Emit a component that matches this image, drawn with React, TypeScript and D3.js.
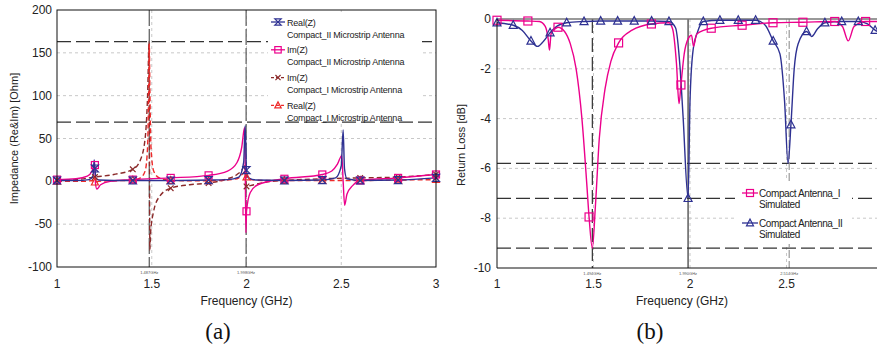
import React from 'react';
import * as d3 from 'd3';

type P = [number, number];

// ---------- Plot (a): impedance ----------
const A_REAL_II: P[] = [
  [1.0, 1], [1.1, 1], [1.17, 2], [1.19, 6], [1.196, 25], [1.2, 15], [1.205, 4], [1.22, 1.5], [1.3, 1], [1.4, 1],
  [1.6, 1], [1.8, 1.5], [1.9, 2], [1.96, 5], [1.985, 22], [1.993, 65], [2.0, 13], [2.01, 4], [2.05, 1.5], [2.2, 1],
  [2.4, 1.5], [2.47, 4], [2.5, 18], [2.51, 60], [2.517, 15], [2.53, 3], [2.6, 1], [2.8, 1.5], [3.0, 4],
];
const A_IM_II: P[] = [
  [1.0, 2], [1.1, 3], [1.16, 6], [1.185, 12], [1.196, 19], [1.2, 19], [1.203, -2], [1.21, -9], [1.23, -4], [1.28, 0],
  [1.4, 2], [1.6, 4], [1.8, 7], [1.9, 12], [1.95, 22], [1.975, 40], [1.99, 63], [1.994, 0], [1.997, -60], [2.0, -35],
  [2.02, -13], [2.06, -4], [2.2, 3], [2.4, 8], [2.45, 12], [2.48, 20], [2.503, 30], [2.51, 0], [2.518, -28],
  [2.53, -15], [2.56, -5], [2.6, 1], [2.8, 4], [3.0, 8],
];
const A_IM_I: P[] = [
  [1.0, 1], [1.1, 2], [1.2, 5], [1.3, 8], [1.4, 14], [1.44, 25], [1.465, 50], [1.478, 100], [1.486, 163], [1.488, 40],
  [1.49, -80], [1.494, -60], [1.51, -35], [1.54, -18], [1.6, -8], [1.7, -4], [1.8, -2], [1.9, 3], [1.95, 8],
  [1.98, 15], [1.99, 20], [1.995, 5], [2.0, -6], [2.02, -5], [2.1, -1], [2.2, 1], [2.4, 3], [2.6, 4], [2.8, 5], [3.0, 8],
];
const A_REAL_I: P[] = [
  [1.0, 0], [1.15, 0], [1.19, 1], [1.2, -1], [1.22, 0], [1.4, 1.5], [1.44, 4], [1.465, 12], [1.478, 40], [1.484, 110],
  [1.487, 160], [1.49, 110], [1.496, 40], [1.51, 12], [1.54, 4], [1.6, 1], [1.8, 0.5], [1.95, 3], [1.985, 10],
  [1.995, 12], [2.0, 5], [2.02, 2], [2.1, 1], [2.4, 1], [2.6, 1], [2.8, 1.5], [3.0, 2],
];
const A_MK_REAL_II: P[] = [[1.0, 1], [1.2, 15], [1.4, 1], [1.6, 1], [1.8, 1.5], [2.0, 13], [2.2, 1], [2.4, 1.5], [2.6, 1], [2.8, 1.5], [3.0, 4]];
const A_MK_IM_II: P[] = [[1.0, 2], [1.2, 19], [1.4, 2], [1.6, 4], [1.8, 7], [2.0, -35], [2.2, 3], [2.4, 8], [2.6, 1], [2.8, 4], [3.0, 8]];
const A_MK_IM_I: P[] = [[1.0, 1], [1.2, 5], [1.4, 14], [1.6, -8], [1.8, -2], [2.0, -6], [2.2, 1], [2.4, 3], [2.6, 4], [2.8, 5], [3.0, 8]];
const A_MK_REAL_I: P[] = [[1.0, 0], [1.2, -1], [1.4, 1.5], [1.6, 1], [1.8, 0.5], [2.0, 5], [2.2, 1], [2.4, 1], [2.6, 1], [2.8, 1.5], [3.0, 2]];

const A_X_TICKS = [1, 1.5, 2, 2.5, 3];
const A_Y_TICKS = [200, 150, 100, 50, 0, -50, -100];
const A_GRID_Y = [150, 100, 50, -50];
const A_GRID_X = [1.5, 2, 2.5];
const A_REF_H = [163, 69];
const A_REF_V = [1.487, 1.998];
const A_REF_V_LABELS = ['1.487GHz', '1.998GHz'];
const A_LEGEND = [
  ['Real(Z)', 'Compact_II Microstrip Antenna'],
  ['Im(Z)', 'Compact_II Microstrip Antenna'],
  ['Im(Z)', 'Compact_I Microstrip Antenna'],
  ['Real(Z)', 'Compact_I Microstrip Antenna'],
];

// ---------- Plot (b): return loss ----------
const B_ANT_I: P[] = [
  [1.0, -0.05], [1.16, -0.08], [1.22, -0.1], [1.25, -0.3], [1.265, -0.8], [1.272, -1.25], [1.28, -0.6], [1.3, -0.4],
  [1.316, -0.33], [1.35, -0.5], [1.38, -1.0], [1.41, -2.0], [1.44, -4.0], [1.465, -6.6], [1.477, -7.95], [1.494, -9.2],
  [1.51, -7.5], [1.53, -4.8], [1.56, -2.8], [1.59, -1.7], [1.63, -0.96], [1.7, -0.45], [1.8, -0.2], [1.89, -0.15],
  [1.91, -0.4], [1.93, -1.8], [1.943, -3.4], [1.953, -2.65], [1.97, -1.4], [1.99, -0.8], [2.008, -0.65], [2.018, -1.1],
  [2.035, -0.6], [2.11, -0.37], [2.27, -0.25], [2.43, -0.15], [2.585, -0.13], [2.75, -0.1], [2.79, -0.3], [2.82, -0.88],
  [2.85, -0.3], [2.91, -0.1], [3.0, -0.1],
];
const B_ANT_II: P[] = [
  [1.0, -0.15], [1.084, -0.25], [1.13, -0.45], [1.176, -0.88], [1.21, -1.1], [1.24, -0.9], [1.275, -0.55],
  [1.3, -0.35], [1.361, -0.15], [1.451, -0.1], [1.537, -0.08], [1.625, -0.08], [1.711, -0.08], [1.801, -0.08],
  [1.891, -0.1], [1.925, -0.35], [1.948, -1.9], [1.964, -3.9], [1.99, -7.2], [2.0, -3.3], [2.016, -1.25], [2.04, -0.5],
  [2.069, -0.1], [2.155, -0.05], [2.25, -0.05], [2.34, -0.05], [2.39, -0.25], [2.431, -0.88], [2.466, -1.4],
  [2.49, -3.3], [2.508, -5.8], [2.523, -4.24], [2.54, -2.0], [2.56, -1.0], [2.604, -0.5], [2.63, -0.7], [2.66, -0.4],
  [2.699, -0.15], [2.786, -0.1], [2.872, -0.1], [2.92, -0.2], [2.959, -0.45], [3.0, -0.6],
];
const B_MK_I: P[] = [
  [1.0, -0.05], [1.16, -0.08], [1.316, -0.33], [1.477, -7.95], [1.63, -0.96], [1.8, -0.2], [1.953, -2.65],
  [2.11, -0.37], [2.27, -0.25], [2.43, -0.15], [2.585, -0.13], [2.75, -0.1], [2.91, -0.1],
];
const B_MK_II: P[] = [
  [1.0, -0.15], [1.084, -0.25], [1.176, -0.88], [1.275, -0.55], [1.361, -0.15], [1.451, -0.1], [1.537, -0.08],
  [1.625, -0.08], [1.711, -0.08], [1.801, -0.08], [1.891, -0.1], [1.99, -7.2], [2.069, -0.1], [2.155, -0.05],
  [2.25, -0.05], [2.34, -0.05], [2.431, -0.88], [2.523, -4.24], [2.604, -0.5], [2.699, -0.15], [2.786, -0.1],
  [2.872, -0.1], [2.959, -0.45],
];
const B_X_TICKS = [1, 1.5, 2, 2.5];
const B_Y_TICKS = [0, -2, -4, -6, -8, -10];
const B_GRID_Y = [-2, -4, -6, -8];
const B_GRID_X = [1.5, 2, 2.5];
const B_REF_H = [-5.8, -7.2, -9.2];
const B_REF_V = [1.494, 1.99, 2.514];
const B_REF_V_LABELS = ['1.494GHz', '1.990GHz', '2.514GHz'];
const B_LEGEND = [
  ['Compact Antenna_I', 'Simulated'],
  ['Compact Antenna_II', 'Simulated'],
];

const BLUE = '#2e3192';
const PINK = '#ec008c';
const DARKRED = '#8b2a2a';
const RED = '#ee2a2a';
const FONT = '"Liberation Sans", Arial, sans-serif';
const SERIF = '"Liberation Serif", "DejaVu Serif", serif';

type MT = 'hour' | 'square' | 'x' | 'tri';

function Marker({ t, x, y, c, s = 3.5 }: { t: MT; x: number; y: number; c: string; s?: number }) {
  if (t === 'hour')
    return <path d={`M${x - s},${y - s}H${x + s}L${x - s},${y + s}H${x + s}Z`} fill="none" stroke={c} strokeWidth={1.2} />;
  if (t === 'square')
    return <rect x={x - s} y={y - s} width={2 * s} height={2 * s} fill="none" stroke={c} strokeWidth={1.2} />;
  if (t === 'x')
    return <path d={`M${x - s * 0.8},${y - s * 0.8}L${x + s * 0.8},${y + s * 0.8}M${x - s * 0.8},${y + s * 0.8}L${x + s * 0.8},${y - s * 0.8}`} stroke={c} strokeWidth={1.2} />;
  return <path d={`M${x},${y - s * 1.1}L${x + s},${y + s * 0.8}L${x - s},${y + s * 0.8}Z`} fill="none" stroke={c} strokeWidth={1.2} />;
}

export default function App() {
  // scales (a)
  const ax = d3.scaleLinear().domain([1, 3]).range([57, 436]);
  const ay = d3.scaleLinear().domain([-100, 200]).range([267, 10]);
  // scales (b)
  const bx = d3.scaleLinear().domain([1, 3]).range([497, 883]);
  const by = d3.scaleLinear().domain([-10, 0]).range([268, 19]);

  const la = d3.line<P>().x((d) => ax(d[0])).y((d) => ay(d[1])).curve(d3.curveMonotoneX);
  const lb = d3.line<P>().x((d) => bx(d[0])).y((d) => by(d[1])).curve(d3.curveMonotoneX);

  const seriesA: { data: P[]; mk: P[]; c: string; t: MT; dash?: string }[] = [
    { data: A_IM_I, mk: A_MK_IM_I, c: DARKRED, t: 'x', dash: '5 3' },
    { data: A_REAL_I, mk: A_MK_REAL_I, c: RED, t: 'tri', dash: '5 3' },
    { data: A_IM_II, mk: A_MK_IM_II, c: PINK, t: 'square' },
    { data: A_REAL_II, mk: A_MK_REAL_II, c: BLUE, t: 'hour' },
  ];
  const legendA: { c: string; t: MT; dash?: string }[] = [
    { c: BLUE, t: 'hour' },
    { c: PINK, t: 'square' },
    { c: DARKRED, t: 'x', dash: '3 2' },
    { c: RED, t: 'tri', dash: '3 2' },
  ];

  return (
    <svg
      width={877}
      height={353}
      style={{ position: 'absolute', left: 0, top: 0, background: '#fff' }}
      fontFamily={FONT}
    >
      <rect width={877} height={353} fill="#fff" />
      <defs>
        <clipPath id="clipA">
          <rect x={57} y={10} width={379} height={257} />
        </clipPath>
        <clipPath id="clipB">
          <rect x={497} y={17} width={386} height={253} />
        </clipPath>
      </defs>

      {/* ===== Plot (a) ===== */}
      <g>
        {A_GRID_Y.map((v) => (
          <line key={'gy' + v} x1={57} x2={436} y1={ay(v)} y2={ay(v)} stroke="#c8c8c8" strokeDasharray="3 3" />
        ))}
        {A_GRID_X.map((v) => (
          <line key={'gx' + v} x1={ax(v)} x2={ax(v)} y1={10} y2={267} stroke="#c8c8c8" strokeDasharray="3 3" />
        ))}
        {A_REF_H.map((v) => (
          <line key={'rh' + v} x1={57} x2={436} y1={ay(v)} y2={ay(v)} stroke="#333" strokeWidth={1.2} strokeDasharray="14 5" />
        ))}
        {A_REF_V.map((v, i) => (
          <g key={'rv' + v}>
            <line x1={ax(v)} x2={ax(v)} y1={10} y2={267} stroke="#666" strokeWidth={1.3} strokeDasharray="16 3" />
            <text x={ax(v)} y={274} fontSize={4} textAnchor="middle" fill="#555">{A_REF_V_LABELS[i]}</text>
          </g>
        ))}
        <g clipPath="url(#clipA)">
          {seriesA.map((s, i) => (
            <path key={'sa' + i} d={la(s.data) || ''} fill="none" stroke={s.c} strokeWidth={1.4} strokeDasharray={s.dash} />
          ))}
        </g>
        {seriesA.map((s, i) => (
          <g key={'ma' + i}>
            {s.mk.map((p, j) => (
              <Marker key={j} t={s.t} x={ax(p[0])} y={ay(p[1])} c={s.c} />
            ))}
          </g>
        ))}
        {/* legend (a) */}
        <rect x={268} y={12} width={154} height={109} fill="#fff" />
        {legendA.map((l, i) => {
          const cy = 22 + i * 27.8;
          return (
            <g key={'la' + i}>
              <line x1={271} x2={285} y1={cy} y2={cy} stroke={l.c} strokeWidth={1.3} strokeDasharray={l.dash} />
              <Marker t={l.t} x={278} y={cy} c={l.c} s={3.2} />
              <text x={287} y={cy + 3.5} fontSize={9} fill="#222" letterSpacing={-0.2}>{A_LEGEND[i][0]}</text>
              <text x={287} y={cy + 15.5} fontSize={9} fill="#222" letterSpacing={-0.2}>{A_LEGEND[i][1]}</text>
            </g>
          );
        })}
        <rect x={57} y={10} width={379} height={257} fill="none" stroke="#111" strokeWidth={1} />
        {A_Y_TICKS.map((v) => (
          <text key={'ya' + v} x={52} y={ay(v) + 4} fontSize={12} textAnchor="end" fill="#222">{v}</text>
        ))}
        {A_X_TICKS.map((v) => (
          <text key={'xa' + v} x={ax(v)} y={288} fontSize={12} textAnchor="middle" fill="#222">{v}</text>
        ))}
        <text x={ax(2)} y={305} fontSize={12} textAnchor="middle" fill="#222">Frequency (GHz)</text>
        <text transform={`translate(18,${ay(50)}) rotate(-90)`} fontSize={11} textAnchor="middle" fill="#222">
          Impedance (Re&amp;Im) [Ohm]
        </text>
        <text x={218} y={339} fontSize={23} textAnchor="middle" fontFamily={SERIF} fill="#111">(a)</text>
      </g>

      {/* ===== Plot (b) ===== */}
      <g>
        {B_GRID_Y.map((v) => (
          <line key={'gyb' + v} x1={497} x2={883} y1={by(v)} y2={by(v)} stroke="#c8c8c8" strokeDasharray="3 3" />
        ))}
        {B_GRID_X.map((v) => (
          <line key={'gxb' + v} x1={bx(v)} x2={bx(v)} y1={19} y2={268} stroke="#c8c8c8" strokeDasharray="3 3" />
        ))}
        {B_REF_H.map((v) => (
          <line key={'rhb' + v} x1={497} x2={883} y1={by(v)} y2={by(v)} stroke="#333" strokeWidth={1.2} strokeDasharray="14 5" />
        ))}
        {B_REF_V.map((v, i) => (
          <g key={'rvb' + v}>
            <line
              x1={bx(v)}
              x2={bx(v)}
              y1={19}
              y2={268}
              stroke={i === 2 ? '#999' : '#333'}
              strokeWidth={1.2}
              strokeDasharray={i === 0 ? '14 5' : i === 2 ? '8 3' : undefined}
            />
            <text x={bx(v)} y={275} fontSize={4} textAnchor="middle" fill="#555">{B_REF_V_LABELS[i]}</text>
          </g>
        ))}
        <line x1={497} x2={883} y1={19} y2={19} stroke="#777" strokeWidth={1.6} />
        <g clipPath="url(#clipB)">
          <path d={lb(B_ANT_II) || ''} fill="none" stroke={BLUE} strokeWidth={1.4} />
          <path d={lb(B_ANT_I) || ''} fill="none" stroke={PINK} strokeWidth={1.4} />
        </g>
        {B_MK_I.map((p, j) => (
          <Marker key={'mbi' + j} t="square" x={bx(p[0])} y={by(p[1])} c={PINK} s={4} />
        ))}
        {B_MK_II.map((p, j) => (
          <Marker key={'mbii' + j} t="tri" x={bx(p[0])} y={by(p[1])} c={BLUE} s={4} />
        ))}
        {/* legend (b) */}
        <rect x={735} y={181} width={117} height={63} fill="#fff" />
        {B_LEGEND.map((l, i) => {
          const cy = 193 + i * 30;
          return (
            <g key={'lb' + i}>
              <line x1={742} x2={758} y1={cy} y2={cy} stroke={i === 0 ? PINK : BLUE} strokeWidth={1.3} />
              <Marker t={i === 0 ? 'square' : 'tri'} x={750} y={cy} c={i === 0 ? PINK : BLUE} s={3.5} />
              <text x={759} y={cy + 4} fontSize={10} fill="#222" letterSpacing={-0.4}>{l[0]}</text>
              <text x={759} y={cy + 15} fontSize={10} fill="#222" letterSpacing={-0.4}>{l[1]}</text>
            </g>
          );
        })}
        <line x1={497} x2={497} y1={19} y2={268} stroke="#111" />
        <line x1={497} x2={883} y1={268} y2={268} stroke="#111" />
        {B_Y_TICKS.map((v) => (
          <text key={'yb' + v} x={491} y={by(v) + 4} fontSize={12} textAnchor="end" fill="#222">{v}</text>
        ))}
        {B_X_TICKS.map((v) => (
          <text key={'xb' + v} x={bx(v)} y={288} fontSize={12} textAnchor="middle" fill="#222">{v}</text>
        ))}
        <text x={682} y={305} fontSize={12} textAnchor="middle" fill="#222">Frequency (GHz)</text>
        <text transform={`translate(465,145) rotate(-90)`} fontSize={11} textAnchor="middle" fill="#222">
          Return Loss [dB]
        </text>
        <text x={650} y={339} fontSize={23} textAnchor="middle" fontFamily={SERIF} fill="#111">(b)</text>
      </g>
    </svg>
  );
}
